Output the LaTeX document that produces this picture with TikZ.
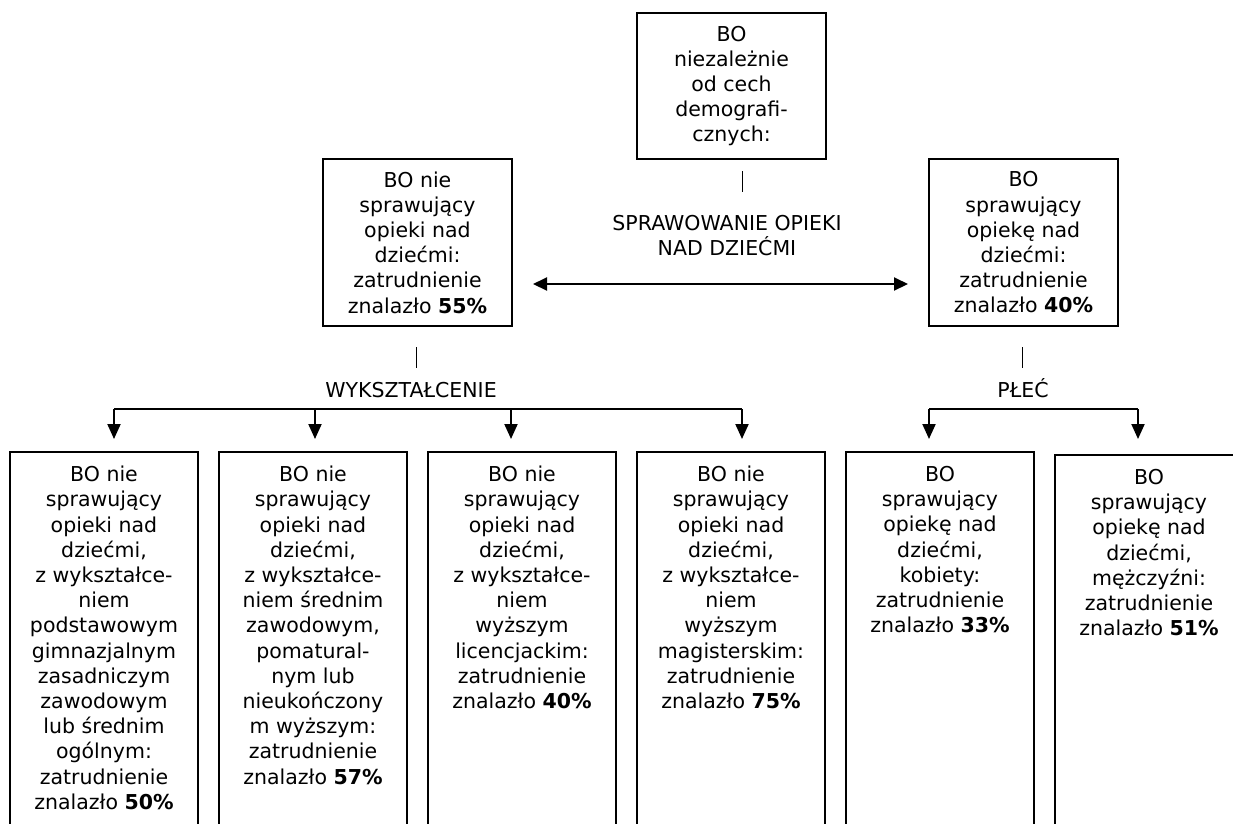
\documentclass[tikz,border=0pt]{standalone}
\usepackage{fontspec}
\setmainfont{DejaVu Sans}
\usetikzlibrary{arrows.meta}
\tikzset{
  box/.style={draw=black, line width=1.3pt, minimum width=189pt, inner sep=0pt, outer sep=0pt},
  bbox/.style={draw=black, line width=1.3pt, minimum width=188pt, minimum height=420pt, inner sep=0pt, outer sep=0pt, anchor=north},
  txt/.style={align=center, inner sep=0pt, font=\fontsize{20.5}{25.2}\selectfont},
  lbl/.style={inner sep=0pt, font=\fontsize{20.5}{25.2}\selectfont},
  bar/.style={line width=1pt},
  fork/.style={line width=2pt},
  arr/.style={line width=2pt, -{Triangle[length=15pt,width=13pt]}},
  darr/.style={line width=2pt, {Triangle[length=14pt,width=13pt]}-{Triangle[length=14pt,width=13pt]}},
}
\begin{document}
\begin{tikzpicture}[x=1pt, y=-1pt]
\useasboundingbox (0,0) rectangle (1233,823);
\clip (0,0) rectangle (1233,823);
% top-level boxes
\node[box, minimum height=146pt, txt] (top) at (731.5,86)
  {BO\\niezależnie\\od cech\\demografi-\\cznych:};
\node[box, minimum height=167pt, txt] (lbox) at (417.5,242.5)
  {BO nie\\sprawujący\\opieki nad\\dziećmi:\\zatrudnienie\\znalazło \textbf{55\%}};
\node[box, minimum height=167pt, txt] (rbox) at (1023.5,242.5)
  {BO\\sprawujący\\opiekę nad\\dziećmi:\\zatrudnienie\\znalazło \textbf{40\%}};
% bars
\coordinate (p1a) at (742,171); \coordinate (p1b) at (742,192);
\coordinate (p2a) at (416,347); \coordinate (p2b) at (416,368);
\coordinate (p3a) at (1022,347); \coordinate (p3b) at (1022,368);
\draw[bar] (p1a) -- (p1b);
\draw[bar] (p2a) -- (p2b);
\draw[bar] (p3a) -- (p3b);
% labels
\node[txt, anchor=north] (lcare) at (727,215) {SPRAWOWANIE OPIEKI\\NAD DZIEĆMI};
\node[lbl, anchor=base] (ledu) at (411,397) {WYKSZTAŁCENIE};
\node[lbl, anchor=base] (lsex) at (1023,397) {PŁEĆ};
% double arrow
\coordinate (da) at (533,284); \coordinate (db) at (908,284);
\draw[darr] (da) -- (db);
% bottom boxes
\node[bbox] (b1) at (104,452) {};
\node[bbox] (b2) at (313,452) {};
\node[bbox] (b3) at (522,452) {};
\node[bbox] (b4) at (731,452) {};
\node[bbox] (b5) at (940,452) {};
\node[bbox] (b6) at (1149,455) {};
\node[txt, anchor=north] (t1) at ([yshift=-14pt]b1.north)
  {BO nie\\sprawujący\\opieki nad\\dziećmi,\\z wykształce-\\niem\\podstawowym\\gimnazjalnym\\zasadniczym\\zawodowym\\lub średnim\\ogólnym:\\zatrudnienie\\znalazło \textbf{50\%}};
\node[txt, anchor=north] (t2) at ([yshift=-14pt]b2.north)
  {BO nie\\sprawujący\\opieki nad\\dziećmi,\\z wykształce-\\niem średnim\\zawodowym,\\pomatural-\\nym lub\\nieukończony\\m wyższym:\\zatrudnienie\\znalazło \textbf{57\%}};
\node[txt, anchor=north] (t3) at ([yshift=-14pt]b3.north)
  {BO nie\\sprawujący\\opieki nad\\dziećmi,\\z wykształce-\\niem\\wyższym\\licencjackim:\\zatrudnienie\\znalazło \textbf{40\%}};
\node[txt, anchor=north] (t4) at ([yshift=-14pt]b4.north)
  {BO nie\\sprawujący\\opieki nad\\dziećmi,\\z wykształce-\\niem\\wyższym\\magisterskim:\\zatrudnienie\\znalazło \textbf{75\%}};
\node[txt, anchor=north] (t5) at ([yshift=-14pt]b5.north)
  {BO\\sprawujący\\opiekę nad\\dziećmi,\\kobiety:\\zatrudnienie\\znalazło \textbf{33\%}};
\node[txt, anchor=north] (t6) at ([yshift=-14pt]b6.north)
  {BO\\sprawujący\\opiekę nad\\dziećmi,\\mężczyźni:\\zatrudnienie\\znalazło \textbf{51\%}};
% education fork
\coordinate (e1) at (114,409); \coordinate (e2) at (315,409);
\coordinate (e3) at (511,409); \coordinate (e4) at (742,409);
\draw[fork] (e1) -- (e4);
\foreach \e/\b in {e1/b1,e2/b2,e3/b3,e4/b4}{
  \draw[arr, shorten >=13pt] (\e) -- (\e |- \b.north);
}
% sex fork
\coordinate (s1) at (929,409); \coordinate (s2) at (1138,409);
\draw[fork] (s1) -- (s2);
\draw[arr, shorten >=13pt] (s1) -- (s1 |- b5.north);
\draw[arr, shorten >=16pt] (s2) -- (s2 |- b6.north);
\end{tikzpicture}
\end{document}
